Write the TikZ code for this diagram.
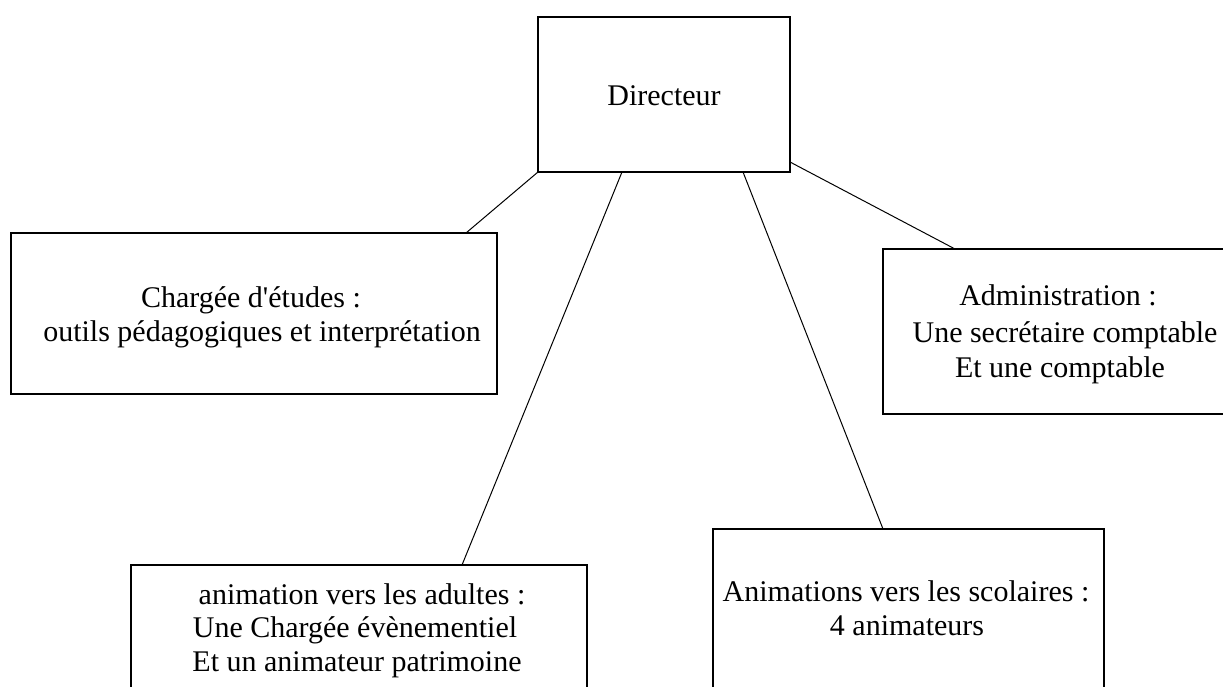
\documentclass[tikz,border=0pt]{standalone}
\usepackage{fontspec}
\newfontfamily\rf{Liberation Serif}
\usetikzlibrary{calc}
\begin{document}
\begin{tikzpicture}[x=1pt,y=-1pt,
  box/.style={draw=black,line width=1.1pt,fill=none,inner sep=0pt,outer sep=0pt},
  txt/.style={anchor=base,inner sep=0pt,font=\rf\fontsize{30}{34}\selectfont},
  link/.style={draw=black,line width=1pt}]
\useasboundingbox (0,0) rectangle (1223,687);
\fill[white] (0,0) rectangle (1223,687);
% boxes
\node[box,minimum width=252pt,minimum height=155pt] (dir) at (664,94.5) {};
\node[box,minimum width=486pt,minimum height=161pt] (charg) at (254,313.5) {};
\node[box,minimum width=354pt,minimum height=165pt] (admin) at (1060,331.5) {};
\node[box,minimum width=456pt,minimum height=126pt] (adult) at (359,628) {};
\node[box,minimum width=391pt,minimum height=163pt] (scol) at (908.5,610.5) {};
% texts
\node[txt] (tdir) at (664,106) {Directeur};
\node[txt] (tc1) at (251,307) {Chargée d'études :};
\node[txt] (tc2) at (262,341) {outils pédagogiques et interprétation};
\node[txt] (ta1) at (1058,305) {Administration :};
\node[txt] (ta2) at (1065,342) {Une secrétaire comptable};
\node[txt] (ta3) at (1060,377) {Et une comptable};
\node[txt] (tu1) at (362,604) {animation vers les adultes :};
\node[txt] (tu2) at (355,637) {Une Chargée évènementiel};
\node[txt] (tu3) at (357,671) {Et un animateur patrimoine};
\node[txt] (ts1) at (906,601) {Animations vers les scolaires :};
\node[txt] (ts2) at (907,635) {4 animateurs};
% connectors
\coordinate (d1) at ($(dir.south west)+(84,0)$);
\coordinate (d2) at ($(dir.south west)+(205,0)$);
\coordinate (d3) at ($(dir.north east)+(0,145)$);
\coordinate (c1) at ($(charg.north west)+(455,0)$);
\coordinate (u1) at ($(adult.north west)+(331,0)$);
\coordinate (s1) at ($(scol.north west)+(170,0)$);
\coordinate (a1) at ($(admin.north west)+(72,0)$);
\draw[link] (dir.south west) -- (c1);
\draw[link] (d1) -- (u1);
\draw[link] (d2) -- (s1);
\draw[link] (d3) -- (a1);
\end{tikzpicture}
\end{document}
